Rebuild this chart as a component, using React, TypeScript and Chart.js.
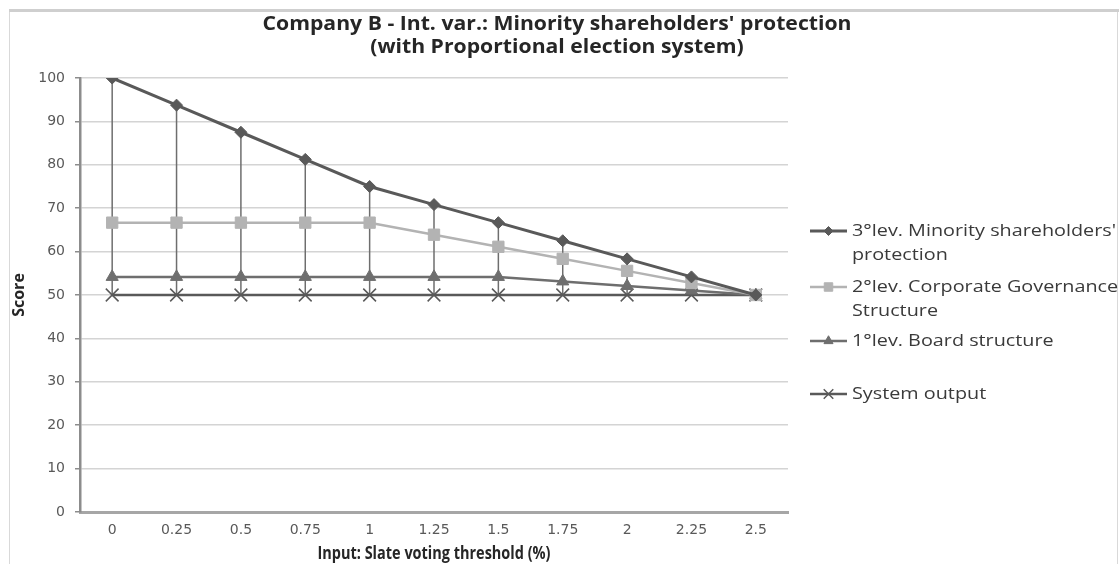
import { useEffect, useRef } from 'react';
import { Chart, registerables } from 'chart.js';
import { drawPoint } from 'chart.js/helpers';

Chart.register(...registerables);

// Slate voting threshold (%) on the category axis
const thresholds = ['0', '0.25', '0.5', '0.75', '1', '1.25', '1.5', '1.75', '2', '2.25', '2.5'];

// Scores per level
const minorityProtection = [100, 93.75, 87.5, 81.25, 75, 70.83, 66.67, 62.5, 58.33, 54.17, 50];
const governanceStructure = [66.67, 66.67, 66.67, 66.67, 66.67, 63.89, 61.11, 58.33, 55.56, 52.78, 50];
const boardStructure = [54.17, 54.17, 54.17, 54.17, 54.17, 54.17, 54.17, 53.13, 52.08, 51.04, 50];
const systemOutput = [50, 50, 50, 50, 50, 50, 50, 50, 50, 50, 50];

// Score axis range
const scoreMin = 0;
const scoreMax = 100;
const scoreStep = 10;

const titleLines = [
  "Company B - Int. var.: Minority shareholders' protection",
  '(with Proportional election system)',
];
const xTitle = 'Input: Slate voting threshold (%)';
const yTitle = 'Score';
const legendLines = [
  ["3°lev. Minority shareholders'", 'protection'],
  ['2°lev. Corporate Governance', 'Structure'],
  ['1°lev. Board structure'],
  ['System output'],
];

const TEXT_FONT = '"Open Sans", "DejaVu Sans", sans-serif';
const TICK_FONT = '"DejaVu Sans", sans-serif';

// Draws text scaled horizontally by factor k around its anchor
function fillWide(ctx: CanvasRenderingContext2D, text: string, x: number, y: number, k: number) {
  ctx.save();
  ctx.translate(x, y);
  ctx.scale(k, 1);
  ctx.fillText(text, 0, 0);
  ctx.restore();
}

const decorations = {
  id: 'decorations',
  beforeDraw(chart: any) {
    const { ctx, width, height, chartArea } = chart;
    ctx.save();
    ctx.fillStyle = '#ffffff';
    ctx.fillRect(0, 0, width, height);

    // frame
    ctx.fillStyle = '#cfcfcf';
    ctx.fillRect(9, 9, width - 9, 3);
    ctx.fillStyle = '#d9d9d9';
    ctx.fillRect(9, 12, 1, height - 12);
    ctx.fillRect(1117, 12, 1, height - 12);

    // title
    ctx.fillStyle = '#262626';
    ctx.font = `bold 19px ${TEXT_FONT}`;
    ctx.textAlign = 'center';
    ctx.textBaseline = 'middle';
    const kTitle = 589 / ctx.measureText(titleLines[0]).width;
    fillWide(ctx, titleLines[0], 557, 25, kTitle);
    fillWide(ctx, titleLines[1], 557, 48, kTitle);

    // axis titles
    ctx.font = `bold 17px ${TEXT_FONT}`;
    const kX = 233 / ctx.measureText(xTitle).width;
    fillWide(ctx, xTitle, (chartArea.left + chartArea.right) / 2, 554, kX);
    ctx.font = `bold 16px ${TEXT_FONT}`;
    ctx.translate(19, (chartArea.top + chartArea.bottom) / 2);
    ctx.rotate(-Math.PI / 2);
    ctx.fillText(yTitle, 0, 0);
    ctx.restore();
  },
  beforeDatasetsDraw(chart: any) {
    // high-low lines joining the series at each threshold
    const { ctx, scales } = chart;
    const sets = chart.data.datasets;
    ctx.save();
    ctx.strokeStyle = '#6e6e6e';
    ctx.lineWidth = 1.5;
    chart.data.labels.forEach((_: string, i: number) => {
      const vals = sets.map((d: any) => d.data[i]);
      const hi = Math.max(...vals);
      const lo = Math.min(...vals);
      const x = scales.x.getPixelForValue(i);
      ctx.beginPath();
      ctx.moveTo(x, scales.y.getPixelForValue(hi));
      ctx.lineTo(x, scales.y.getPixelForValue(lo));
      ctx.stroke();
    });
    ctx.restore();
  },
  afterDraw(chart: any) {
    // legend at the right
    const { ctx } = chart;
    const rows = [231, 287, 341, 394];
    ctx.save();
    ctx.font = `17px ${TEXT_FONT}`;
    ctx.textAlign = 'left';
    ctx.textBaseline = 'middle';
    const kLegend = 264 / ctx.measureText(legendLines[0][0]).width;
    chart.data.datasets.forEach((d: any, i: number) => {
      const y = rows[i];
      ctx.strokeStyle = d.borderColor;
      ctx.lineWidth = d.borderWidth;
      ctx.beginPath();
      ctx.moveTo(810, y);
      ctx.lineTo(847, y);
      ctx.stroke();
      ctx.fillStyle = d.pointBackgroundColor;
      ctx.strokeStyle = d.pointBorderColor;
      ctx.lineWidth = d.pointBorderWidth;
      drawPoint(ctx, { pointStyle: d.pointStyle, radius: d.pointRadius * 0.75, rotation: 0, borderWidth: d.pointBorderWidth }, 828.5, y);
      ctx.fillStyle = '#3a3a3a';
      legendLines[i].forEach((line, k) => fillWide(ctx, line, 852, y + k * 24, kLegend));
    });
    ctx.restore();
  },
};

export default function App() {
  const canvasRef = useRef<HTMLCanvasElement>(null);

  useEffect(() => {
    const canvas = canvasRef.current;
    if (!canvas) return;
    const chart = new Chart(canvas, {
      type: 'line',
      data: {
        labels: thresholds,
        datasets: [
          {
            label: legendLines[0].join(' '),
            data: minorityProtection,
            borderColor: '#595959',
            borderWidth: 3,
            pointStyle: 'rectRot',
            pointRadius: 6,
            pointBackgroundColor: '#595959',
            pointBorderColor: '#595959',
            pointBorderWidth: 1,
          },
          {
            label: legendLines[1].join(' '),
            data: governanceStructure,
            borderColor: '#b3b3b3',
            borderWidth: 2.5,
            pointStyle: 'rect',
            pointRadius: 8,
            pointBackgroundColor: '#b3b3b3',
            pointBorderColor: '#b3b3b3',
            pointBorderWidth: 1,
          },
          {
            label: legendLines[2].join(' '),
            data: boardStructure,
            borderColor: '#6e6e6e',
            borderWidth: 2.5,
            pointStyle: 'triangle',
            pointRadius: 7,
            pointBackgroundColor: '#6e6e6e',
            pointBorderColor: '#6e6e6e',
            pointBorderWidth: 1,
          },
          {
            label: legendLines[3].join(' '),
            data: systemOutput,
            borderColor: '#595959',
            borderWidth: 2.5,
            pointStyle: 'crossRot',
            pointRadius: 9,
            pointBackgroundColor: '#595959',
            pointBorderColor: '#595959',
            pointBorderWidth: 1.5,
          },
        ],
      },
      options: {
        responsive: false,
        animation: false,
        layout: { padding: { top: 78, right: 331, bottom: 0, left: 0 } },
        plugins: {
          legend: { display: false },
          title: { display: false },
          tooltip: { enabled: false },
        },
        scales: {
          x: {
            type: 'category',
            offset: true,
            grid: { display: true, drawOnChartArea: false, drawTicks: false },
            border: { display: true, color: '#a6a6a6', width: 3 },
            ticks: {
              color: '#595959',
              font: { family: TICK_FONT, size: 14 },
              padding: 10,
              maxRotation: 0,
              autoSkip: false,
            },
            afterFit: (s: any) => {
              s.height = 52;
            },
          },
          y: {
            min: scoreMin,
            max: scoreMax,
            grid: { color: '#d4d4d4', lineWidth: 1.5, tickLength: 5, tickColor: '#8c8c8c' },
            border: { display: true, color: '#8c8c8c', width: 2.5 },
            ticks: {
              stepSize: scoreStep,
              color: '#595959',
              font: { family: TICK_FONT, size: 14 },
              padding: 10,
            },
            afterFit: (s: any) => {
              s.width = 80;
            },
          },
        },
      },
      plugins: [decorations],
    });
    return () => chart.destroy();
  }, []);

  return (
    <div style={{ position: 'fixed', left: 0, top: 0, width: 1119, height: 564, background: '#fff' }}>
      <canvas ref={canvasRef} width={1119} height={564} style={{ display: 'block' }} />
    </div>
  );
}
